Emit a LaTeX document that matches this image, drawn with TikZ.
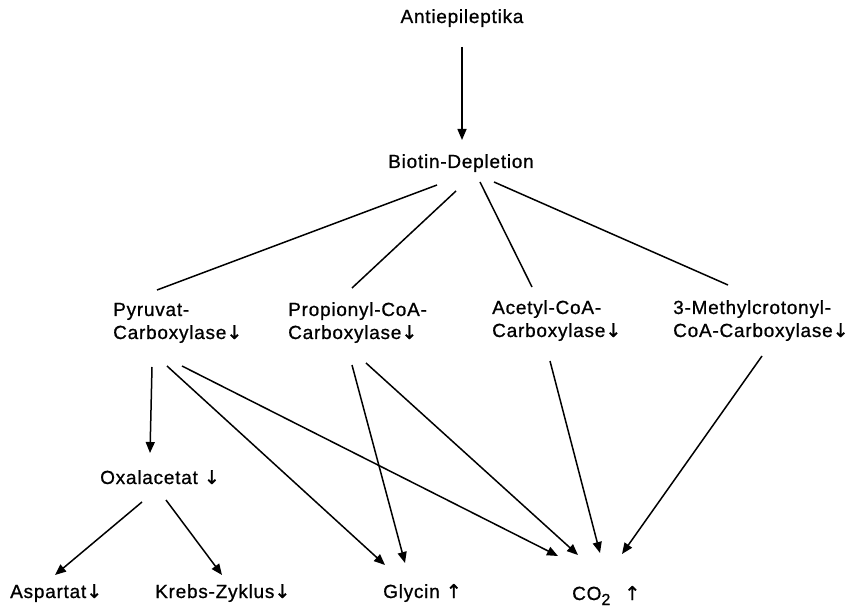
\documentclass[tikz,border=0pt]{standalone}
\usepackage{fontspec}
\setmainfont{Liberation Sans}[LetterSpace=4,FakeBold=0.8]
\newfontfamily\symfont{DejaVu Sans}[FakeBold=1]
\usetikzlibrary{arrows.meta}
\newcommand{\dn}{{\symfont\char"2193}}
\newcommand{\up}{{\symfont\char"2191}}
\newcommand{\twol}[2]{\begin{tabular}[t]{@{}l@{}}#1\\#2\end{tabular}}
\begin{document}
\begin{tikzpicture}[x=1pt,y=-1pt,
  lbl/.style={inner sep=0pt,font=\fontsize{19}{23}\selectfont},
  conn/.style={line width=1.5pt},
  arr/.style={conn,-{Triangle[length=11pt,width=9pt]}}]
\useasboundingbox (0,0) rectangle (852,612);
% labels
\node[lbl,anchor=base] (anti) at (462,23) {Antiepileptika};
\node[lbl,anchor=base] (bd) at (461,168) {Biotin-Depletion};
\node[lbl,anchor=base west] (py) at (113,316) {\twol{Pyruvat-}{Carboxylase\dn}};
\node[lbl,anchor=base west] (pr) at (288,316) {\twol{Propionyl-CoA-}{Carboxylase\dn}};
\node[lbl,anchor=base west] (ac) at (492,314) {\twol{Acetyl-CoA-}{Carboxylase\dn}};
\node[lbl,anchor=base west] (me) at (673,314) {\twol{3-Methylcrotonyl-}{CoA-Carboxylase\dn}};
\node[lbl,anchor=base west] (ox) at (100,484) {Oxalacetat \dn};
\node[lbl,anchor=base west] (asp) at (10,598) {Aspartat\dn};
\node[lbl,anchor=base west] (kr) at (155,598) {Krebs-Zyklus\dn};
\node[lbl,anchor=base west] (gly) at (383,598) {Glycin \up};
\node[lbl,anchor=base west] (co) at (572,600) {CO\raisebox{-5pt}{\fontsize{16}{16}\selectfont 2}\hspace{14pt}\up};
% connector end points
\coordinate (antiS) at (462,47);   \coordinate (bdN) at (462,140);
\coordinate (bd1) at (437,185);    \coordinate (py0) at (157,290);
\coordinate (bd2) at (456,191);    \coordinate (pr0) at (352,288);
\coordinate (bd3) at (480,182);    \coordinate (ac0) at (532,287);
\coordinate (bd4) at (494,182);    \coordinate (me0) at (728,285);
\coordinate (py1) at (152,367);    \coordinate (oxN) at (150,453);
\coordinate (py2) at (167,366);    \coordinate (gly1) at (385,565);
\coordinate (py3) at (182,366);    \coordinate (co1) at (558,556);
\coordinate (pr1) at (352,365);    \coordinate (gly2) at (405,563);
\coordinate (pr2) at (366,363);    \coordinate (co2) at (578,555);
\coordinate (ac1) at (550,361);    \coordinate (co3) at (600,553);
\coordinate (me1) at (762,356);    \coordinate (co4) at (622,554);
\coordinate (ox1) at (142,502);    \coordinate (asp0) at (55,575);
\coordinate (ox2) at (166,500);    \coordinate (kr0) at (222,575);
% connectors
\draw[arr] (antiS) -- (bdN);
\draw[conn] (bd1) -- (py0);
\draw[conn] (bd2) -- (pr0);
\draw[conn] (bd3) -- (ac0);
\draw[conn] (bd4) -- (me0);
\draw[arr] (py1) -- (oxN);
\draw[arr] (py2) -- (gly1);
\draw[arr] (py3) -- (co1);
\draw[arr] (pr1) -- (gly2);
\draw[arr] (pr2) -- (co2);
\draw[arr] (ac1) -- (co3);
\draw[arr] (me1) -- (co4);
\draw[arr] (ox1) -- (asp0);
\draw[arr] (ox2) -- (kr0);
\end{tikzpicture}
\end{document}
